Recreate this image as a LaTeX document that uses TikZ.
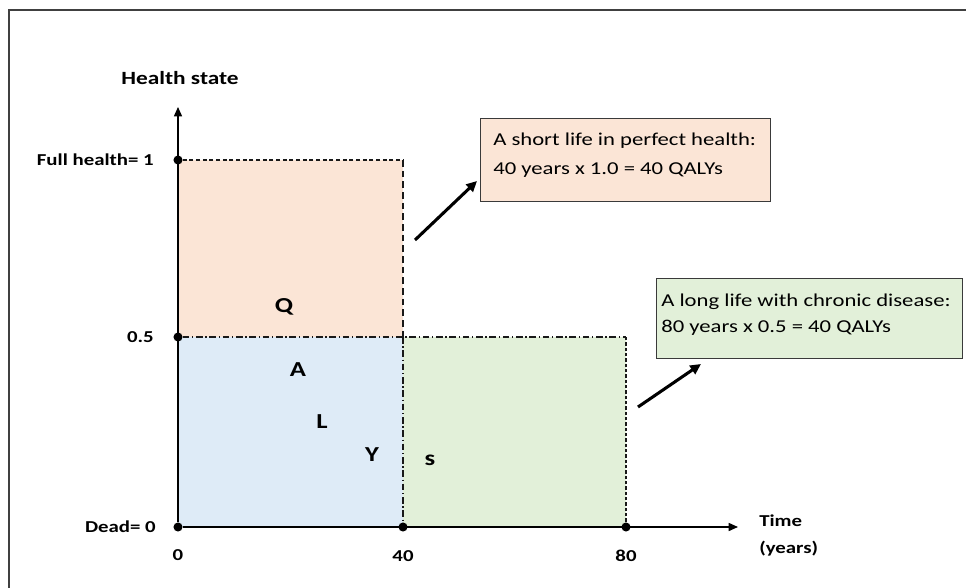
\documentclass[tikz,border=0pt]{standalone}
\usepackage{graphicx}
\usepackage{fontspec}
\setmainfont{Carlito}
\usetikzlibrary{arrows.meta}
\definecolor{peach}{HTML}{FBE5D6}
\definecolor{paleblue}{HTML}{DEEBF7}
\definecolor{palegreen}{HTML}{E2F0D9}
\definecolor{boxline}{HTML}{3A3A3A}
% wide-set text
\newcommand\widetext[1]{\scalebox{1.25}[1]{#1}}
\tikzset{
  axislabel/.style={font=\bfseries\fontsize{12.5}{14}\selectfont, inner sep=0pt},
  titlelabel/.style={font=\bfseries\fontsize{14}{16}\selectfont, inner sep=0pt},
  letter/.style={font=\bfseries\fontsize{16}{18}\selectfont, inner sep=0pt},
  boxtext/.style={font=\fontsize{13.6}{15}\selectfont, inner sep=0pt, anchor=base west},
  infobox/.style={draw=boxline, line width=1pt, anchor=north west, inner sep=0pt},
  dot/.style={circle, fill=black, inner sep=0pt, minimum size=6.8pt},
  axis/.style={line width=1.1pt, -{Triangle[length=7pt,width=6pt]}},
  pointer/.style={line width=2.3pt, -{Triangle[length=8pt,width=7.5pt]}},
  guide/.style={line width=0.8pt, black!90},
}
\begin{document}
\begin{tikzpicture}[x=0.75pt,y=-0.75pt]
\useasboundingbox (0,0) rectangle (966,588);
% frame
\draw[line width=1.1pt, black!75] (9,588) -- (9,10) -- (966,10);

% shaded areas
\fill[peach] (178,160) rectangle (403,337);
\fill[paleblue] (178,337) rectangle (403,527);
\fill[palegreen] (403,337) rectangle (626,527);

% key points
\node[dot] (o) at (178,527) {};
\node[dot] (full) at (178,160) {};
\node[dot] (half) at (178,337) {};
\node[dot] (t40) at (403,527) {};
\node[dot] (t80) at (626,527) {};
\coordinate (ytop) at (178,107);
\coordinate (xend) at (738,527);
\coordinate (c40top) at (403,160);
\coordinate (c40mid) at (403,337);
\coordinate (c80mid) at (626,337);

% guide lines
\draw[guide, dash pattern=on 3pt off 2pt] (full) -- (c40top);
\draw[guide, dash pattern=on 5pt off 3pt] (c40top) -- (c40mid);
\draw[guide, dash pattern=on 5pt off 2pt on 1pt off 2pt] (half) -- (c80mid);
\draw[guide, dash pattern=on 5pt off 2pt on 1pt off 2pt] (c40mid) -- (t40);
\draw[guide, dash pattern=on 2.5pt off 1.5pt] (c80mid) -- (t80);

% axes
\draw[axis] (o) -- (ytop);
\draw[axis] (o) -- (xend);

% axis labels
\node[titlelabel] (ylab) at (180,78) {\widetext{Health state}};
\node[axislabel, anchor=east] (lfull) at (154,160) {\widetext{Full health= 1}};
\node[axislabel, anchor=east] (lhalf) at (154,337) {\widetext{0.5}};
\node[axislabel, anchor=east] (ldead) at (156,527) {\widetext{Dead= 0}};
\node[axislabel] (l0) at (178,555) {\widetext{0}};
\node[axislabel] (l40) at (403,556) {\widetext{40}};
\node[axislabel] (l80) at (626,556) {\widetext{80}};
\node[axislabel, anchor=west] (ltime) at (759,521) {\widetext{Time}};
\node[axislabel, anchor=west] (lyears) at (759,549) {\widetext{(years)}};

% QALYs letters
\node[letter] (q) at (284,307) {\widetext{Q}};
\node[letter] (a) at (298,370) {\widetext{A}};
\node[letter] (l) at (322,422) {\widetext{L}};
\node[letter] (y) at (372,455) {\widetext{Y}};
\node[letter] (s) at (430,460) {\widetext{s}};

% explanation boxes
\node[infobox, fill=peach, minimum width=217.5pt, minimum height=62.25pt] (box1) at (480,118) {};
\node[boxtext] (box1a) at (493,146) {\widetext{A short life in perfect health:}};
\node[boxtext] (box1b) at (493,174) {\widetext{40 years x 1.0 = 40 QALYs}};

\node[infobox, fill=palegreen, minimum width=229.5pt, minimum height=60pt] (box2) at (656,278) {};
\node[boxtext] (box2a) at (661,306) {\widetext{A long life with chronic disease:}};
\node[boxtext] (box2b) at (661,332) {\widetext{80 years x 0.5 = 40 QALYs}};

% pointers
\coordinate (p1) at (415,240);
\coordinate (p1end) at (477,181);
\coordinate (p2) at (638,407);
\coordinate (p2end) at (701,364);
\draw[pointer] (p1) -- (p1end);
\draw[pointer] (p2) -- (p2end);
\end{tikzpicture}
\end{document}
